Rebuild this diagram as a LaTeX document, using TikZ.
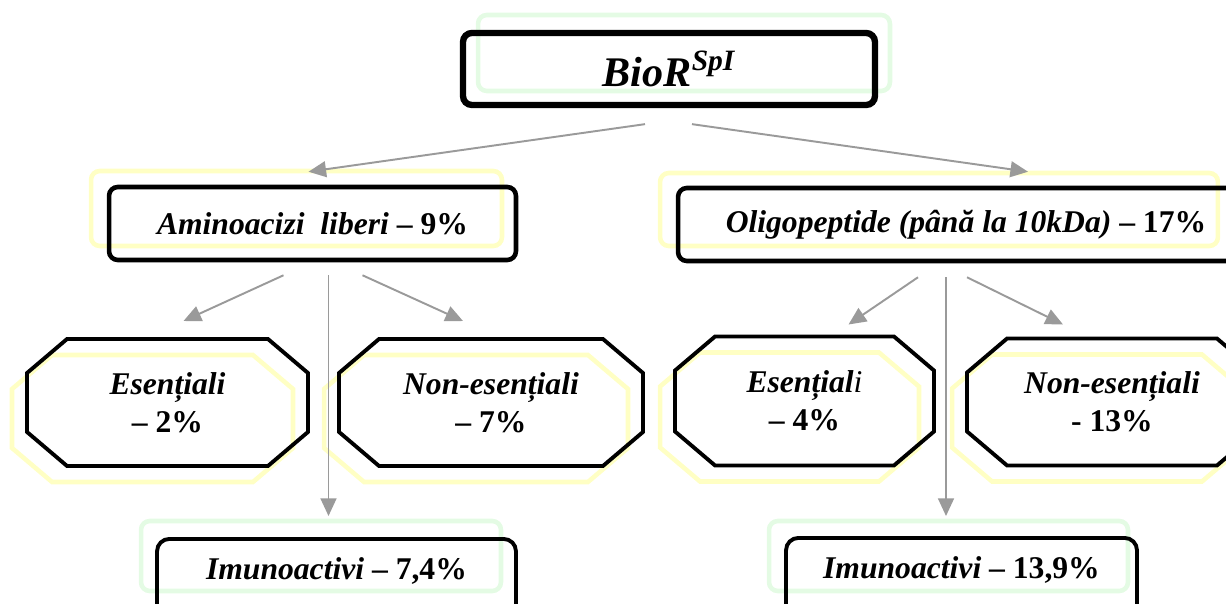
\documentclass[tikz,border=0pt]{standalone}
\usepackage{fontspec}
\setmainfont{Liberation Serif}
\usetikzlibrary{positioning, arrows.meta, calc}

\definecolor{paleyellow}{HTML}{FFFFC4}
\definecolor{palegreen}{HTML}{E4FBE4}
\definecolor{arrowgray}{HTML}{9A9A9A}

% octagon round a node, corners cut 40 x 34
\newcommand\octline[2]{%
  \draw[#2] ($(#1.north west)+(40,0)$) -- ($(#1.north east)+(-40,0)$)
    -- ($(#1.north east)+(0,34)$) -- ($(#1.south east)+(0,-34)$)
    -- ($(#1.south east)+(-40,0)$) -- ($(#1.south west)+(40,0)$)
    -- ($(#1.south west)+(0,-34)$) -- ($(#1.north west)+(0,34)$) -- cycle;}

\begin{document}
\begin{tikzpicture}[
  x=0.02cm, y=-0.02cm,
  every node/.style={font=\fontsize{18}{21.5}\selectfont\bfseries, align=center, inner sep=0pt},
  box/.style={draw, rectangle, rounded corners=5pt, line width=2.6pt},
  octspot/.style={rectangle, outer sep=0pt, minimum height=2.54cm},
  octdraw/.style={line width=2.2pt, line join=miter},
  glowbox/.style={draw=#1, rectangle, rounded corners=5pt, line width=2.6pt},
  glowoct/.style={draw=paleyellow, line width=2.6pt},
  arr/.style={-{Triangle[length=10pt, width=9pt]}, draw=arrowgray, line width=1.1pt}
]
  \useasboundingbox (0,0) rectangle (1226,604);
  \clip (0,0) rectangle (1226,604);

  % pale frames behind the boxes
  \node[glowbox=palegreen, minimum width=8.24cm, minimum height=1.52cm] (g0) at (684,53) {};
  \node[glowbox=paleyellow, minimum width=8.22cm, minimum height=1.5cm] (g1) at (296.5,208.5) {};
  \node[glowbox=paleyellow, minimum width=11.16cm, minimum height=1.46cm] (g2) at (939,209.5) {};
  \node[octspot, minimum width=5.62cm] (g3) at (152.5,418.5) {};
  \node[octspot, minimum width=6.08cm] (g4) at (476,418.5) {};
  \node[octspot, minimum width=5.18cm, minimum height=2.58cm] (g5) at (789.5,417) {};
  \node[octspot, minimum width=5.8cm] (g6) at (1097,418) {};
  \foreach \g in {g3,g4,g5,g6} {\octline{\g}{glowoct}}
  \node[glowbox=palegreen, minimum width=7.2cm, minimum height=1.4cm] (g7) at (321,556) {};
  \node[glowbox=palegreen, minimum width=7.18cm, minimum height=1.4cm] (g8) at (948.5,556) {};

  \node[box, line width=3.6pt, minimum width=8.24cm, minimum height=1.44cm,
    font=\fontsize{24}{29}\selectfont\bfseries\itshape] (bior) at (669,69) {BioR\textsuperscript{SpI}};

  \node[box, minimum width=8.14cm, minimum height=1.46cm] (amino) at (312.5,223.5)
    {\textit{Aminoacizi\ \ liberi} – 9\%};
  \node[box, minimum width=11.52cm, minimum height=1.46cm] (oligo) at (966,224.5)
    {\textit{Oligopeptide (până la 10kDa)} – 17\%};

  \node[octspot, minimum width=5.62cm] (ess1) at (167.5,402.5) {\textit{Esențiali}\\– 2\%};
  \node[octspot, minimum width=6.08cm] (non1) at (491,402.5) {\textit{Non-esențiali}\\– 7\%};
  \node[octspot, minimum width=5.18cm, minimum height=2.58cm] (ess2) at (804.5,401)
    {\textit{Esențial{\mdseries i}}\\– 4\%};
  \node[octspot, minimum width=5.8cm] (non2) at (1112,402) {\textit{Non-esențiali}\\- 13\%};
  \foreach \o in {ess1,non1,ess2,non2} {\octline{\o}{octdraw}}

  \node[box, line width=2.2pt, rounded corners=7pt, anchor=north, minimum width=7.18cm,
    text height=0.82cm, text depth=0.84cm] (imu1) at (336.5,537) {\textit{Imunoactivi} – 7,4\%};
  \node[box, line width=2.2pt, rounded corners=7pt, anchor=north, minimum width=7.02cm,
    text height=0.82cm, text depth=0.84cm] (imu2) at (961.5,536) {\textit{Imunoactivi} – 13,9\%};

  \draw[arr] ($(bior.south)+(-24,16)$) -- ($(amino.north)+(-4,-13)$);
  \draw[arr] ($(bior.south)+(23,16)$) -- ($(oligo.north)+(62,-14)$);
  \draw[arr] ($(amino.south)+(-29,13)$) -- ($(ess1.north)+(16,-18)$);
  \draw[arr] ($(amino.south)+(16,13)$) -- ($(imu1.north)+(-8,-21)$);
  \draw[arr] ($(amino.south)+(50,13)$) -- ($(non1.north)+(-28,-18)$);
  \draw[arr] ($(oligo.south)+(-48,14)$) -- ($(ess2.north)+(44,-12)$);
  \draw[arr] ($(oligo.south)+(-20,14)$) -- ($(imu2.north)+(-15.5,-20)$);
  \draw[arr] ($(oligo.south)+(1,14)$) -- ($(non2.north)+(-49,-14)$);
\end{tikzpicture}
\end{document}
